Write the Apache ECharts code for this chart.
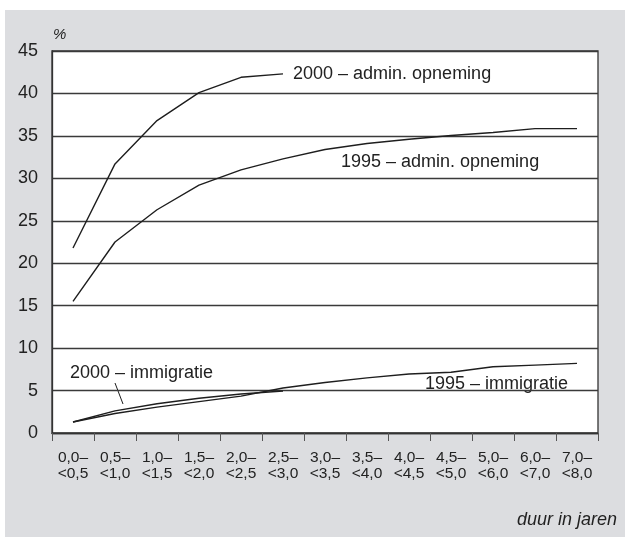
<!DOCTYPE html>
<html>
<head>
<meta charset="utf-8">
<script src="https://cdn.jsdelivr.net/npm/echarts@6/dist/echarts.min.js"></script>
<style>
html,body{margin:0;padding:0;background:#fff;}
#bg{position:absolute;left:5px;top:10px;width:620px;height:527px;background:#dcdde0;}
#chart{position:absolute;left:0;top:0;width:627px;height:538px;}
</style>
</head>
<body>
<div id="bg"></div>
<div id="chart"></div>
<script>
// categories (duur in jaren)
var categories = ['0,0–\n<0,5','0,5–\n<1,0','1,0–\n<1,5','1,5–\n<2,0','2,0–\n<2,5','2,5–\n<3,0','3,0–\n<3,5','3,5–\n<4,0','4,0–\n<4,5','4,5–\n<5,0','5,0–\n<6,0','6,0–\n<7,0','7,0–\n<8,0'];
// series values (%)
var admin2000 = [21.8, 31.7, 36.8, 40.1, 41.9, 42.3];
var admin1995 = [15.5, 22.5, 26.3, 29.2, 31.0, 32.3, 33.4, 34.1, 34.6, 35.05, 35.4, 35.85, 35.85];
var imm2000 = [1.3, 2.6, 3.45, 4.1, 4.6, 4.95];
var imm1995 = [1.3, 2.3, 3.05, 3.7, 4.35, 5.3, 5.95, 6.5, 6.95, 7.15, 7.8, 8.0, 8.2];
// labels
var seriesNames = ['2000 – admin. opneming', '1995 – admin. opneming', '2000 – immigratie', '1995 – immigratie'];
var yUnit = '%';
var xTitle = 'duur in jaren';

var FONT = '"Liberation Sans", Arial, Helvetica, sans-serif';
var TXT = '#222';
var LINE = '#1e1e1e';

var chart = echarts.init(document.getElementById('chart'), null, {renderer:'canvas'});

function lineSeries(name, data, extra) {
  var s = {
    name: name, type: 'line', data: data, symbol: 'none', silent: true,
    lineStyle: {color: LINE, width: 1.4},
    animation: false
  };
  for (var k in extra) s[k] = extra[k];
  return s;
}

var option = {
  animation: false,
  backgroundColor: 'transparent',
  textStyle: {fontFamily: FONT},
  grid: {
    left: 52, top: 51, width: 546, height: 382,
    show: true, backgroundColor: '#ffffff', borderColor: '#333', borderWidth: 1.3
  },
  xAxis: {
    type: 'category', data: categories, boundaryGap: true,
    axisLine: {lineStyle: {color: '#333', width: 1.3}},
    axisTick: {show: true, length: 8, lineStyle: {color: '#555', width: 1}},
    axisLabel: {color: TXT, fontSize: 15.5, fontFamily: FONT, lineHeight: 16, margin: 17, interval: 0}
  },
  yAxis: {
    type: 'value', min: 0, max: 45, interval: 5,
    axisLine: {show: true, lineStyle: {color: '#333', width: 1.3}},
    axisTick: {show: false},
    splitLine: {lineStyle: {color: '#3a3a3a', width: 1.3}},
    axisLabel: {color: TXT, fontSize: 18, fontFamily: FONT, margin: 14}
  },
  series: [
    lineSeries(seriesNames[0], admin2000, {
      endLabel: {show: true, formatter: seriesNames[0], color: TXT, fontSize: 18, fontFamily: FONT, distance: 10}
    }),
    lineSeries(seriesNames[1], admin1995, {}),
    lineSeries(seriesNames[2], imm2000, {}),
    lineSeries(seriesNames[3], imm1995, {})
  ],
  graphic: [
    {type: 'text', left: 53, top: 27, style: {text: yUnit, font: 'italic 15px ' + FONT, fill: TXT}},
    {type: 'text', x: 617, y: 520, style: {text: xTitle, font: 'italic 18px ' + FONT, fill: TXT, textAlign: 'right', textVerticalAlign: 'middle'}},
    {type: 'text', x: 341, y: 162, style: {text: seriesNames[1], font: '18px ' + FONT, fill: TXT, textAlign: 'left', textVerticalAlign: 'middle'}},
    {type: 'text', x: 70, y: 373, style: {text: seriesNames[2], font: '18px ' + FONT, fill: TXT, textAlign: 'left', textVerticalAlign: 'middle'}},
    {type: 'text', x: 425, y: 384, style: {text: seriesNames[3], font: '18px ' + FONT, fill: TXT, textAlign: 'left', textVerticalAlign: 'middle'}},
    {type: 'line', shape: {x1: 115, y1: 383, x2: 123, y2: 404}, style: {stroke: LINE, lineWidth: 1}}
  ]
};
chart.setOption(option);
</script>
</body>
</html>
